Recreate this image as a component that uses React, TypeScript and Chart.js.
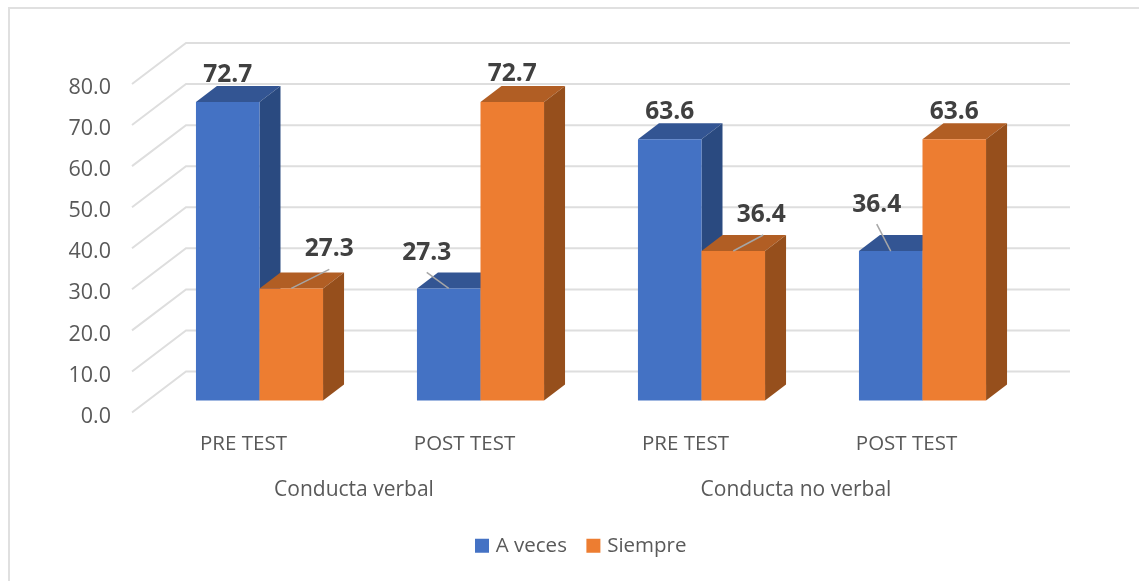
import React, { useEffect, useRef } from "react";
import { Chart, registerables } from "chart.js";

Chart.register(...registerables);

const categories = ["PRE TEST", "POST TEST", "PRE TEST", "POST TEST"];
const groups = ["Conducta verbal", "Conducta no verbal"];
const aVeces = [72.7, 27.3, 63.6, 36.4];
const siempre = [27.3, 72.7, 36.4, 63.6];

const FONT = "'Open Sans', sans-serif";
const TICK_COLOR = "#595959";
const GRID_COLOR = "#dedede";

// Faces of the 3D boxes, per dataset
const faceColors = [
  { front: "#4472C4", top: "#335593", side: "#2A4A80" },
  { front: "#ED7D31", top: "#B15E24", side: "#964F1C" },
];

// Where each value label sits relative to the top of its bar, and whether it has a leader line
const labelPlacement = [
  [
    { dx: 0, dy: -27 },
    { dx: -22, dy: -35, lead: [-22, -16] },
    { dx: 0, dy: -27 },
    { dx: -14, dy: -46, lead: [-14, -27] },
  ],
  [
    { dx: 38, dy: -39, lead: [38, -19] },
    { dx: 0, dy: -28 },
    { dx: 28, dy: -36, lead: [30, -16] },
    { dx: 0, dy: -27 },
  ],
];

const BAR_DEPTH = { x: 21, y: 16 };
const WALL_OFFSET = { x: 37, y: 29 };
const FLOOR_OFFSET = { x: 17, y: 12 };

const poly = (ctx: CanvasRenderingContext2D, pts: number[][], fill: string) => {
  ctx.beginPath();
  pts.forEach(([x, y], i) => (i ? ctx.lineTo(x, y) : ctx.moveTo(x, y)));
  ctx.closePath();
  ctx.fillStyle = fill;
  ctx.fill();
};

const box3d = {
  id: "box3d",
  afterLayout(chart: any) {
    // the legend of the original is centred on the plot, not on the page
    const shift = 66;
    chart.legend.left += shift;
    chart.legend.right += shift;
  },
  beforeDatasetDraw() {
    return false;
  },
  beforeDatasetsDraw(chart: any) {
    const { ctx, chartArea, scales } = chart;
    const y = scales.y;
    // walls
    ctx.save();
    ctx.strokeStyle = GRID_COLOR;
    ctx.lineWidth = 2;
    y.ticks.forEach((t: any) => {
      const py = y.getPixelForValue(t.value);
      ctx.beginPath();
      ctx.moveTo(chartArea.left - FLOOR_OFFSET.x, py + FLOOR_OFFSET.y);
      ctx.lineTo(chartArea.left + WALL_OFFSET.x, py - WALL_OFFSET.y);
      ctx.lineTo(chartArea.right + WALL_OFFSET.x, py - WALL_OFFSET.y);
      ctx.stroke();
    });
    ctx.restore();
    // bars: left dataset first so that the right one covers its depth
    chart.data.datasets.forEach((_: any, di: number) => {
      const meta = chart.getDatasetMeta(di);
      const c = faceColors[di];
      meta.data.forEach((bar: any) => {
        const l = bar.x - bar.width / 2;
        const r = bar.x + bar.width / 2;
        const d = BAR_DEPTH;
        poly(ctx, [[l, bar.y], [r, bar.y], [r + d.x, bar.y - d.y], [l + d.x, bar.y - d.y]], c.top);
        poly(ctx, [[r, bar.y], [r + d.x, bar.y - d.y], [r + d.x, bar.base - d.y], [r, bar.base]], c.side);
      });
      meta.controller.draw();
    });
  },
  afterDatasetsDraw(chart: any) {
    const { ctx } = chart;
    ctx.save();
    ctx.textAlign = "center";
    ctx.textBaseline = "middle";
    ctx.font = `bold 24.5px ${FONT}`;
    chart.data.datasets.forEach((ds: any, di: number) => {
      chart.getDatasetMeta(di).data.forEach((bar: any, i: number) => {
        const p = labelPlacement[di][i];
        if (p.lead) {
          ctx.strokeStyle = "#a6a6a6";
          ctx.lineWidth = 1.5;
          ctx.beginPath();
          ctx.moveTo(bar.x + p.lead[0], bar.y + p.lead[1]);
          ctx.lineTo(bar.x, bar.y);
          ctx.stroke();
        }
        ctx.fillStyle = "#404040";
        ctx.fillText(ds.data[i].toFixed(1), bar.x + p.dx, bar.y + p.dy);
      });
    });
    ctx.restore();
  },
};

export default function App() {
  const ref = useRef<HTMLCanvasElement>(null);
  useEffect(() => {
    const chart = new Chart(ref.current as HTMLCanvasElement, {
      type: "bar",
      data: {
        labels: categories,
        datasets: [
          { label: "A veces", data: aVeces, backgroundColor: faceColors[0].front, borderWidth: 0, categoryPercentage: 0.575, barPercentage: 1 },
          { label: "Siempre", data: siempre, backgroundColor: faceColors[1].front, borderWidth: 0, categoryPercentage: 0.575, barPercentage: 1 },
        ],
      },
      options: {
        responsive: false,
        animation: false,
        layout: { padding: { top: 72, right: 106, left: 0, bottom: 15 } },
        scales: {
          x: {
            type: "category",
            position: "bottom",
            weight: 0,
            grid: { display: false, drawTicks: false },
            border: { display: false },
            ticks: { color: TICK_COLOR, font: { family: FONT, size: 20.5 }, padding: 31, labelOffset: -16, maxRotation: 0, autoSkip: false },
            afterFit: (s: any) => { s.height = 60; },
          },
          x2: {
            type: "category",
            axis: "x",
            position: "bottom",
            weight: 1,
            labels: groups,
            grid: { display: false, drawTicks: false },
            border: { display: false },
            ticks: { color: TICK_COLOR, font: { family: FONT, size: 21 }, padding: 17, labelOffset: -16, maxRotation: 0, autoSkip: false },
            afterFit: (s: any) => { s.height = 52; },
          },
          y: {
            min: 0,
            max: 80,
            grid: { display: false, drawTicks: false },
            border: { display: false },
            ticks: { stepSize: 10, color: TICK_COLOR, font: { family: FONT, size: 21.5 }, padding: 38, labelOffset: 16, callback: (v: any) => Number(v).toFixed(1) },
            afterFit: (s: any) => { s.width = 149; },
          },
        },
        plugins: {
          tooltip: { enabled: false },
          legend: {
            position: "bottom",
            labels: {
              boxWidth: 7,
              boxHeight: 7,
              padding: 23,
              color: TICK_COLOR,
              font: { family: FONT, size: 20.5 },
              generateLabels: (c: any) =>
                (Chart.defaults.plugins.legend.labels as any).generateLabels(c).map((l: any) => ({
                  ...l,
                  lineWidth: 7,
                  strokeStyle: l.fillStyle,
                  lineJoin: "miter",
                })),
            },
          },
        },
      },
      plugins: [box3d],
    } as any);
    return () => chart.destroy();
  }, []);
  return (
    <div style={{ position: "absolute", left: 0, top: 0, width: 1139, height: 581, overflow: "hidden", background: "#fff" }}>
      <div style={{ position: "absolute", left: 8, top: 7, right: 0, bottom: 0, borderLeft: "2px solid #e0e0e0", borderTop: "2px solid #e0e0e0" }} />
      <canvas ref={ref} width={1139} height={581} style={{ position: "absolute", left: 0, top: 0 }} />
    </div>
  );
}
